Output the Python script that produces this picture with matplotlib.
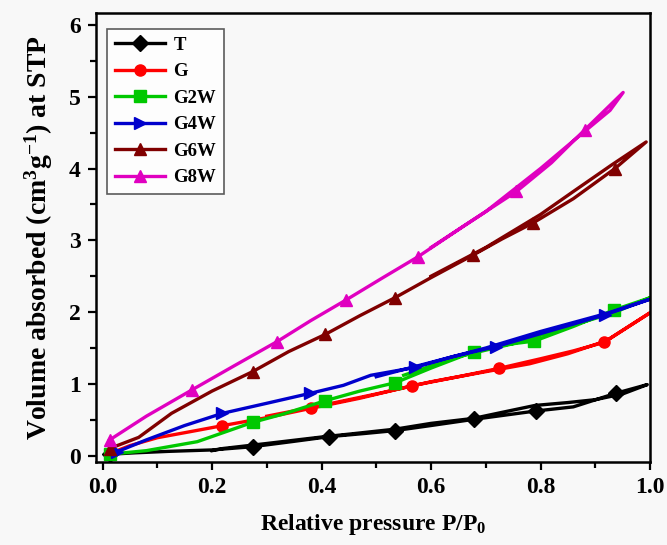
import matplotlib
matplotlib.use("Agg")
import matplotlib.pyplot as plt
from matplotlib.ticker import MultipleLocator

plt.rcParams['font.family'] = ['Liberation Serif', 'DejaVu Serif']
plt.rcParams['font.weight'] = 'bold'
plt.rcParams['mathtext.fontset'] = 'custom'
plt.rcParams['mathtext.rm'] = 'Liberation Serif:bold'
plt.rcParams['mathtext.it'] = 'Liberation Serif:bold'
plt.rcParams['mathtext.bf'] = 'Liberation Serif:bold'

# ---- data (adsorption up, then desorption back) ----
labels = ['T', 'G', 'G2W', 'G4W', 'G6W', 'G8W']

T_x = [0.013, 0.06, 0.12, 0.2, 0.274, 0.35, 0.414, 0.48, 0.535, 0.6, 0.678, 0.74, 0.791, 0.86, 0.937, 0.995,
       0.95, 0.9, 0.85, 0.79, 0.74, 0.678, 0.6, 0.535, 0.45, 0.4, 0.3, 0.22, 0.2]
T_y = [0.02, 0.04, 0.06, 0.08, 0.125, 0.2, 0.265, 0.31, 0.35, 0.42, 0.506, 0.57, 0.622, 0.68, 0.868, 0.99,
       0.86, 0.78, 0.74, 0.7, 0.62, 0.52, 0.45, 0.37, 0.3, 0.26, 0.17, 0.1, 0.07]
T_mk = [0, 4, 6, 8, 10, 12, 14]

G_x = [0.013, 0.05, 0.1, 0.15, 0.219, 0.3, 0.381, 0.47, 0.566, 0.65, 0.724, 0.8, 0.86, 0.916, 1.0,
       0.92, 0.85, 0.78, 0.7, 0.6, 0.5, 0.4, 0.3]
G_y = [0.03, 0.14, 0.25, 0.32, 0.418, 0.53, 0.66, 0.8, 0.975, 1.1, 1.216, 1.35, 1.46, 1.578, 1.99,
       1.6, 1.42, 1.28, 1.17, 1.03, 0.86, 0.7, 0.55]
G_mk = [0, 4, 6, 8, 10, 13]

G2W_x = [0.013, 0.08, 0.173, 0.22, 0.274, 0.33, 0.407, 0.47, 0.535, 0.6, 0.678, 0.74, 0.789, 0.86, 0.934, 1.0,
         0.93, 0.85, 0.75, 0.65, 0.55]
G2W_y = [0.02, 0.07, 0.195, 0.32, 0.464, 0.58, 0.766, 0.9, 1.017, 1.22, 1.448, 1.55, 1.597, 1.8, 2.03, 2.2,
         1.98, 1.8, 1.56, 1.38, 1.12]
G2W_mk = [0, 4, 6, 8, 10, 12, 14]

G4W_x = [0.027, 0.08, 0.15, 0.219, 0.3, 0.379, 0.44, 0.49, 0.571, 0.64, 0.718, 0.8, 0.917, 1.0,
         0.92, 0.8, 0.7, 0.6, 0.5]
G4W_y = [0.056, 0.22, 0.42, 0.59, 0.73, 0.868, 0.98, 1.12, 1.23, 1.38, 1.518, 1.7, 1.96, 2.18,
         1.98, 1.73, 1.5, 1.3, 1.1]
G4W_mk = [0, 3, 5, 8, 10, 12]

G6W_x = [0.013, 0.066, 0.126, 0.2, 0.274, 0.34, 0.407, 0.47, 0.534, 0.6, 0.677, 0.73, 0.786, 0.86, 0.936, 0.993,
         0.93, 0.86, 0.8, 0.7, 0.6]
G6W_y = [0.1, 0.255, 0.59, 0.9, 1.17, 1.45, 1.69, 1.95, 2.2, 2.48, 2.795, 3.02, 3.24, 3.58, 4.0, 4.37,
         4.05, 3.68, 3.36, 2.9, 2.5]
G6W_mk = [0, 4, 6, 8, 10, 12, 14]

G8W_x = [0.013, 0.08, 0.163, 0.24, 0.319, 0.38, 0.445, 0.51, 0.576, 0.66, 0.756, 0.82, 0.881, 0.951,
         0.927, 0.87, 0.8, 0.7, 0.6]
G8W_y = [0.22, 0.55, 0.915, 1.25, 1.59, 1.88, 2.17, 2.47, 2.77, 3.2, 3.68, 4.08, 4.54, 5.06,
         4.81, 4.45, 4.0, 3.4, 2.9]
G8W_mk = [0, 2, 4, 6, 8, 10, 12]

xs = [T_x, G_x, G2W_x, G4W_x, G6W_x, G8W_x]
ys = [T_y, G_y, G2W_y, G4W_y, G6W_y, G8W_y]
mks = [T_mk, G_mk, G2W_mk, G4W_mk, G6W_mk, G8W_mk]
colors = ['#000000', '#ff0000', '#00c800', '#0000cc', '#800000', '#e000c0']
markers = ['D', 'o', 's', '>', '^', '^']

fig = plt.figure(figsize=(6.67, 5.45), dpi=100, facecolor='#f8f8f8')
ax = fig.add_axes([0.1439, 0.1523, 0.8306, 0.8238])
ax.set_facecolor('#f8f8f8')

for x, y, m, c, mk, lab in zip(xs, ys, mks, colors, markers, labels):
    ax.plot(x, y, color=c, lw=2.4, marker=mk, markersize=8, markevery=m, label=lab)

ax.set_xlim(-0.012, 1.0)
ax.set_ylim(-0.088, 6.166)
ax.xaxis.set_major_locator(MultipleLocator(0.2))
ax.xaxis.set_minor_locator(MultipleLocator(0.1))
ax.yaxis.set_major_locator(MultipleLocator(1))
ax.yaxis.set_minor_locator(MultipleLocator(0.5))
ax.xaxis.set_major_formatter(matplotlib.ticker.FormatStrFormatter('%.1f'))
ax.tick_params(which='major', direction='out', length=6, width=1.6, labelsize=17, pad=5)
ax.tick_params(which='minor', direction='out', length=4, width=1.6)
for sp in ax.spines.values():
    sp.set_linewidth(1.8)

ax.set_xlabel('Relative pressure P/P$_0$', fontsize=17, fontweight='bold', labelpad=10)
ax.set_ylabel('Volume absorbed (cm$^{3}$g$^{-1}$) at STP', fontsize=20, fontweight='bold', labelpad=10)

leg = ax.legend(loc='upper left', bbox_to_anchor=(0.02, 0.964), frameon=True, fancybox=False,
                edgecolor='#333333', facecolor='white', prop={'size': 13.5, 'weight': 'bold'},
                handlelength=2.7, labelspacing=0.5, borderpad=0.4, handletextpad=0.45,
                borderaxespad=0.0)
leg.get_frame().set_linewidth(1.2)

fig.savefig('out.png', dpi=100, facecolor=fig.get_facecolor())
